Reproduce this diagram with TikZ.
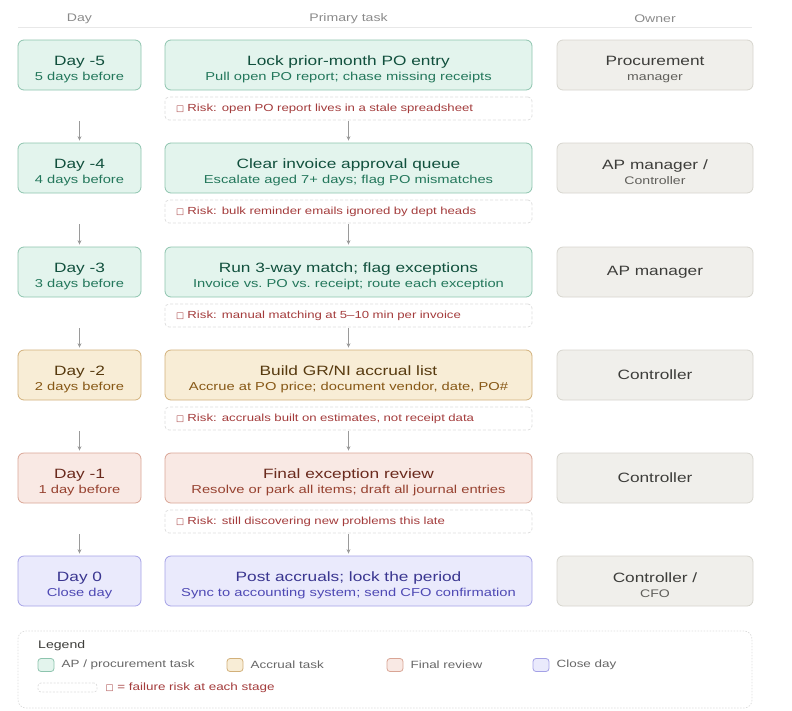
\documentclass[tikz,border=0pt]{standalone}
\usepackage{fontspec}
\setmainfont{Liberation Sans}[FakeStretch=1.28]
\newfontfamily\symfont{DejaVu Sans}
\usepackage{tikz}
\usetikzlibrary{arrows.meta, positioning}
\usepackage{xcolor}

\definecolor{grnfill}{HTML}{E3F4ED}
\definecolor{grnline}{HTML}{8DC4AE}
\definecolor{grntitle}{HTML}{11503D}
\definecolor{grnsub}{HTML}{23775B}
\definecolor{ambfill}{HTML}{F8EDD6}
\definecolor{ambline}{HTML}{D2B07A}
\definecolor{ambtitle}{HTML}{573A0F}
\definecolor{ambsub}{HTML}{875816}
\definecolor{redfill}{HTML}{F9E9E4}
\definecolor{redline}{HTML}{D9A595}
\definecolor{redtitle}{HTML}{6A2A1D}
\definecolor{redsub}{HTML}{974230}
\definecolor{purfill}{HTML}{EAEAFC}
\definecolor{purline}{HTML}{A4A1E6}
\definecolor{purtitle}{HTML}{3A3690}
\definecolor{pursub}{HTML}{4E49B4}
\definecolor{ownfill}{HTML}{F0EFEB}
\definecolor{ownline}{HTML}{D7D5CE}
\definecolor{owntext}{HTML}{3D3D3A}
\definecolor{ownsub}{HTML}{5F5E5A}
\definecolor{riskline}{HTML}{DCDCDC}
\definecolor{risktext}{HTML}{A33B3B}
\definecolor{hdrc}{HTML}{8A8A8A}
\definecolor{hdrline}{HTML}{E8E8E8}
\definecolor{arrowc}{HTML}{9A9A9A}
\definecolor{legtext}{HTML}{666666}

\newcommand\ttl{\fontsize{13.5}{16}\selectfont}
\newcommand\sbt{\fontsize{11.5}{14}\selectfont}
\newcommand\rsk{\fontsize{10.3}{13}\selectfont}
\newcommand\hd[2]{{\ttl\color{#1}\rule{0pt}{18pt}#2}}
\newcommand\tofu{{\symfont\fontsize{8.5}{10}\selectfont □}}

\tikzset{
  box/.style={draw, rounded corners=6pt, line width=0.8pt, minimum height=50pt,
    align=center, inner sep=2pt, font=\sbt},
  daybox/.style={box, minimum width=123pt},
  taskbox/.style={box, minimum width=367pt},
  ownbox/.style={box, minimum width=196pt, fill=ownfill, draw=ownline, text=ownsub},
  grn/.style={fill=grnfill, draw=grnline, text=grnsub},
  amb/.style={fill=ambfill, draw=ambline, text=ambsub},
  red/.style={fill=redfill, draw=redline, text=redsub},
  pur/.style={fill=purfill, draw=purline, text=pursub},
  riskbox/.style={draw=riskline, line width=0.7pt, dash pattern=on 3pt off 2pt,
    rounded corners=4pt, minimum height=23pt, text width=345pt, inner xsep=11pt,
    inner ysep=0pt, align=left, text=risktext, font=\rsk},
  flow/.style={draw=arrowc, line width=0.9pt, -{Stealth[length=4.5pt,width=4pt]}},
  hdr/.style={text=hdrc, font=\fontsize{11}{12}\selectfont},
  swatch/.style={draw, rounded corners=3pt, line width=0.8pt, minimum width=16pt,
    minimum height=13pt, inner sep=0pt},
  legitem/.style={text=legtext, font=\fontsize{10.5}{12}\selectfont, inner sep=0pt},
}

\begin{document}
\begin{tikzpicture}[x=1pt, y=-1pt]
  \useasboundingbox (0,0) rectangle (792,710);

  % column heads
  \path (79.5,19) node[hdr] (hday) {Day}
    (348.5,19) node[hdr] (htask) {Primary task}
    (655,19) node[hdr] (hown) {Owner};
  \coordinate (hl) at (18,27.5);
  \coordinate (hr) at (752,27.5);
  \draw[hdrline, line width=0.8pt] (hl) -- (hr);

  % day column
  \path (79.5,65) node[daybox, grn] (d1) {\hd{grntitle}{Day -5}\\[1.5pt]5 days before}
    (79.5,168) node[daybox, grn] (d2) {\hd{grntitle}{Day -4}\\[1.5pt]4 days before}
    (79.5,272) node[daybox, grn] (d3) {\hd{grntitle}{Day -3}\\[1.5pt]3 days before}
    (79.5,375) node[daybox, amb] (d4) {\hd{ambtitle}{Day -2}\\[1.5pt]2 days before}
    (79.5,478) node[daybox, red] (d5) {\hd{redtitle}{Day -1}\\[1.5pt]1 day before}
    (79.5,581) node[daybox, pur] (d6) {\hd{purtitle}{Day 0}\\[1.5pt]Close day};

  % task column
  \path (348.5,65) node[taskbox, grn] (t1) {\hd{grntitle}{Lock prior-month PO entry}\\[1.5pt]Pull open PO report; chase missing receipts}
    (348.5,168) node[taskbox, grn] (t2) {\hd{grntitle}{Clear invoice approval queue}\\[1.5pt]Escalate aged 7+ days; flag PO mismatches}
    (348.5,272) node[taskbox, grn] (t3) {\hd{grntitle}{Run 3-way match; flag exceptions}\\[1.5pt]Invoice vs.\ PO vs.\ receipt; route each exception}
    (348.5,375) node[taskbox, amb] (t4) {\hd{ambtitle}{Build GR/NI accrual list}\\[1.5pt]Accrue at PO price; document vendor, date, PO\#}
    (348.5,478) node[taskbox, red] (t5) {\hd{redtitle}{Final exception review}\\[1.5pt]Resolve or park all items; draft all journal entries}
    (348.5,581) node[taskbox, pur] (t6) {\hd{purtitle}{Post accruals; lock the period}\\[1.5pt]Sync to accounting system; send CFO confirmation};

  % risks
  \path (348.5,108.5) node[riskbox] (r1) {\tofu\ Risk: open PO report lives in a stale spreadsheet}
    (348.5,211.5) node[riskbox] (r2) {\tofu\ Risk: bulk reminder emails ignored by dept heads}
    (348.5,315.5) node[riskbox] (r3) {\tofu\ Risk: manual matching at 5--10 min per invoice}
    (348.5,418.5) node[riskbox] (r4) {\tofu\ Risk: accruals built on estimates, not receipt data}
    (348.5,521.5) node[riskbox] (r5) {\tofu\ Risk: still discovering new problems this late};

  % owner column
  \path (655,65) node[ownbox] (o1) {\hd{owntext}{Procurement}\\[1.5pt]{\fontsize{11}{13}\selectfont manager}}
    (655,168) node[ownbox] (o2) {\hd{owntext}{AP manager /}\\[1.5pt]{\fontsize{11}{13}\selectfont Controller}}
    (655,272) node[ownbox] (o3) {{\ttl\color{owntext}AP manager}}
    (655,375) node[ownbox] (o4) {{\ttl\color{owntext}Controller}}
    (655,478) node[ownbox] (o5) {{\ttl\color{owntext}Controller}}
    (655,581) node[ownbox] (o6) {\hd{owntext}{Controller /}\\[1.5pt]{\fontsize{11}{13}\selectfont CFO}};

  \draw[flow, shorten <=31pt, shorten >=2pt] (d1) -- (d2);
  \draw[flow, shorten <=31pt, shorten >=2pt] (d2) -- (d3);
  \draw[flow, shorten <=31pt, shorten >=2pt] (d3) -- (d4);
  \draw[flow, shorten <=31pt, shorten >=2pt] (d4) -- (d5);
  \draw[flow, shorten <=31pt, shorten >=2pt] (d5) -- (d6);
  \draw[flow, shorten <=1pt, shorten >=2pt] (r1) -- (t2);
  \draw[flow, shorten <=1pt, shorten >=2pt] (r2) -- (t3);
  \draw[flow, shorten <=1pt, shorten >=2pt] (r3) -- (t4);
  \draw[flow, shorten <=1pt, shorten >=2pt] (r4) -- (t5);
  \draw[flow, shorten <=1pt, shorten >=2pt] (r5) -- (t6);

  % legend
  \node[draw=riskline, line width=0.7pt, dash pattern=on 1.5pt off 1.5pt,
    rounded corners=8pt, minimum width=734pt, minimum height=77pt] (legend) at (385,669.5) {};
  \node[anchor=west, text=owntext, font=\fontsize{11}{13}\selectfont, inner sep=0pt] (legtitle) at (38,645.5) {Legend};
  \node[swatch, grn] (sw1) at (46,665) {};
  \node[legitem, right=7pt of sw1] (lt1) {AP / procurement task};
  \node[swatch, amb] (sw2) at (235,665) {};
  \node[legitem, right=7pt of sw2] (lt2) {Accrual task};
  \node[swatch, red] (sw3) at (395,665) {};
  \node[legitem, right=7pt of sw3] (lt3) {Final review};
  \node[swatch, pur] (sw4) at (541,665) {};
  \node[legitem, right=7pt of sw4] (lt4) {Close day};
  \node[draw=riskline, line width=0.7pt, dash pattern=on 2pt off 1.5pt, rounded corners=3pt,
    minimum width=59pt, minimum height=9pt, inner sep=0pt] (sw5) at (67.5,687.5) {};
  \node[legitem, text=risktext, right=8pt of sw5] (lt5) {\tofu\ = failure risk at each stage};
\end{tikzpicture}
\end{document}
